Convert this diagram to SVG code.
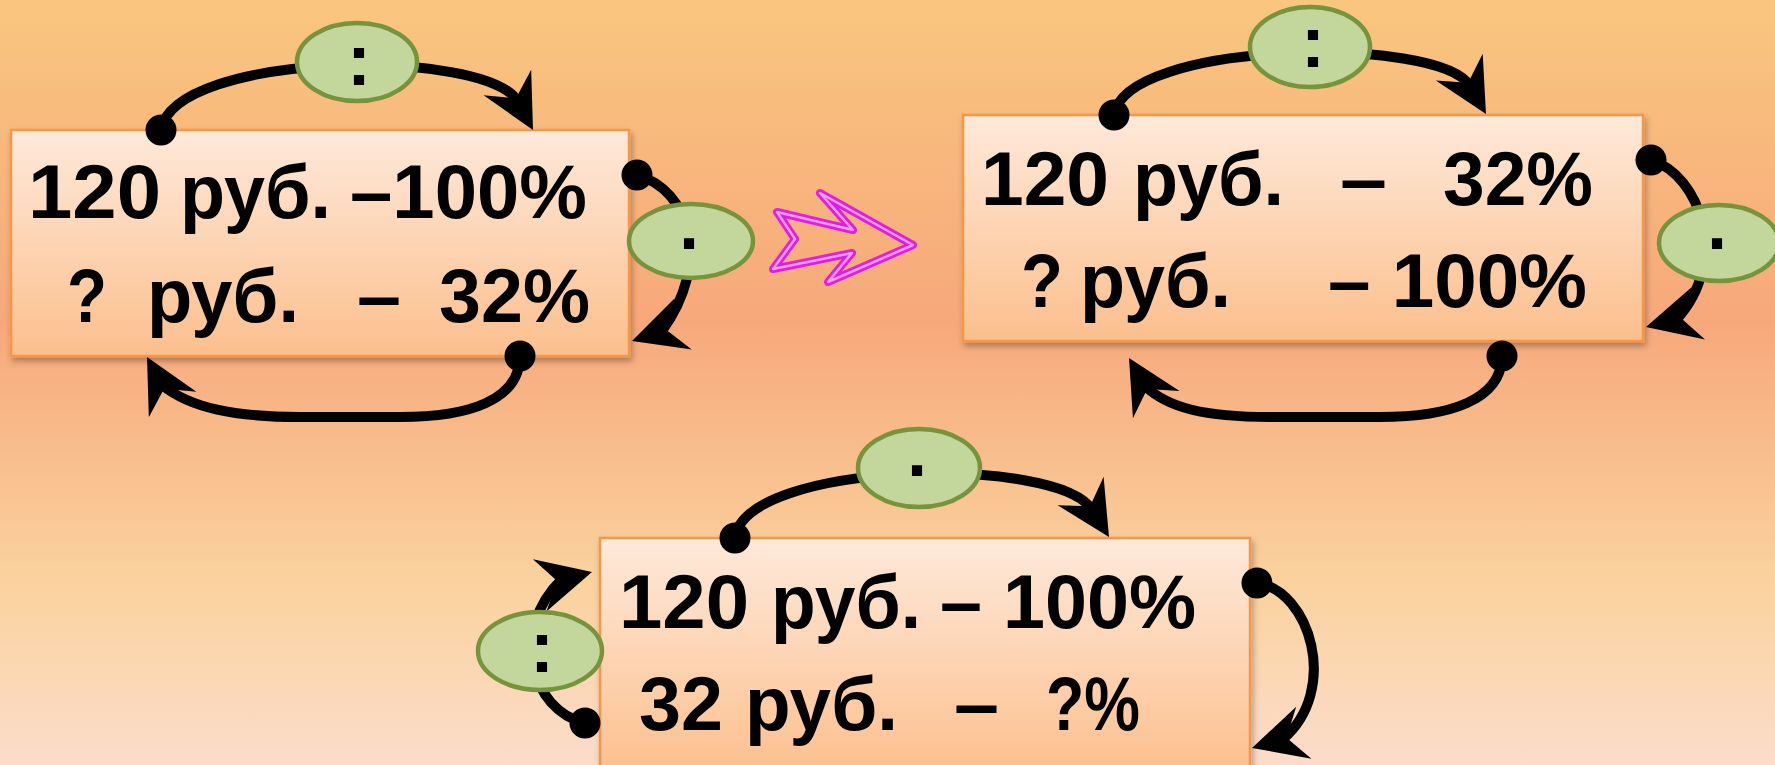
<svg xmlns="http://www.w3.org/2000/svg" xmlns:xlink="http://www.w3.org/1999/xlink" width="1775" height="765" viewBox="0 0 1775 765">
<defs>
  <linearGradient id="bg" x1="0" y1="0" x2="0" y2="1">
    <stop offset="0" stop-color="#f9c67f"/>
    <stop offset="0.42" stop-color="#f7a87b"/>
    <stop offset="0.76" stop-color="#fad29e"/>
    <stop offset="1" stop-color="#fcdcca"/>
  </linearGradient>
  <linearGradient id="boxfill" x1="0" y1="0" x2="0" y2="1">
    <stop offset="0" stop-color="#fee9da"/>
    <stop offset="1" stop-color="#fcbf8d"/>
  </linearGradient>
  <filter id="shadow" x="-5%" y="-5%" width="112%" height="115%">
    <feDropShadow dx="2" dy="4" stdDeviation="3" flood-color="#000" flood-opacity="0.3"/>
  </filter>
  <path id="ah" d="M0,0 L-54,-27 L-36,0 L-54,27 Z" fill="#000"/>
  <style>
    .box { fill: url(#boxfill); stroke: #f79646; stroke-width: 2.5; filter: url(#shadow); }
    .txt { font-family: "Liberation Sans", Arial, sans-serif; font-weight: bold; font-size: 76px; fill: #000; }
    .op { fill: #c3d69b; stroke: #77933c; stroke-width: 4.5; }
    .optxt { font-family: "Liberation Sans", Arial, sans-serif; font-weight: bold; font-size: 72px; fill: #000; text-anchor: middle; }
    .conn { fill: none; stroke: #000; stroke-width: 10; }
    .dot { fill: #000; }
    .zig { fill: none; stroke: #e01ee0; stroke-width: 8; stroke-linejoin: round; }
    .zig2 { fill: none; stroke: #f59af2; stroke-width: 2.5; stroke-linejoin: round; }
  </style>
</defs>

<rect x="0" y="0" width="1775" height="765" fill="url(#bg)"/>

<g id="box1">
  <rect class="box" x="11" y="130" width="618" height="226"/>
  <text class="txt" y="218"><tspan x="28" textLength="133" lengthAdjust="spacingAndGlyphs">120</tspan> <tspan x="180" textLength="151" lengthAdjust="spacingAndGlyphs">руб.</tspan> <tspan x="350" textLength="237" lengthAdjust="spacingAndGlyphs">–100%</tspan></text>
  <text class="txt" y="322"><tspan x="67" textLength="40" lengthAdjust="spacingAndGlyphs">?</tspan> <tspan x="147" textLength="152" lengthAdjust="spacingAndGlyphs">руб.</tspan> <tspan x="357" textLength="44" lengthAdjust="spacingAndGlyphs">–</tspan> <tspan x="439" textLength="151" lengthAdjust="spacingAndGlyphs">32%</tspan></text>
</g>

<g id="box2">
  <rect class="box" x="963" y="115" width="680" height="226"/>
  <text class="txt" y="205"><tspan x="981" textLength="128" lengthAdjust="spacingAndGlyphs">120</tspan> <tspan x="1133" textLength="151" lengthAdjust="spacingAndGlyphs">руб.</tspan> <tspan x="1340" textLength="47" lengthAdjust="spacingAndGlyphs">–</tspan> <tspan x="1443" textLength="150" lengthAdjust="spacingAndGlyphs">32%</tspan></text>
  <text class="txt" y="307"><tspan x="1021" textLength="42" lengthAdjust="spacingAndGlyphs">?</tspan> <tspan x="1080" textLength="151" lengthAdjust="spacingAndGlyphs">руб.</tspan> <tspan x="1328" textLength="259" lengthAdjust="spacingAndGlyphs">– 100%</tspan></text>
</g>

<g id="box3">
  <rect class="box" x="600" y="538" width="650" height="240"/>
  <text class="txt" y="628"><tspan x="619" textLength="130" lengthAdjust="spacingAndGlyphs">120</tspan> <tspan x="771" textLength="150" lengthAdjust="spacingAndGlyphs">руб.</tspan> <tspan x="940" textLength="256" lengthAdjust="spacingAndGlyphs">– 100%</tspan></text>
  <text class="txt" y="730"><tspan x="639" textLength="84" lengthAdjust="spacingAndGlyphs">32</tspan> <tspan x="745" textLength="153" lengthAdjust="spacingAndGlyphs">руб.</tspan> <tspan x="954" textLength="45" lengthAdjust="spacingAndGlyphs">–</tspan> <tspan x="1046" textLength="94" lengthAdjust="spacingAndGlyphs">?%</tspan></text>
</g>

<g id="arrow-transition">
  <polygon class="zig" points="777,212 853,230 820,193 913,245 828,282 852,253 773,269 795,239"/>
  <polygon class="zig2" points="777,212 853,230 820,193 913,245 828,282 852,253 773,269 795,239"/>
</g>

<g id="connectors">
  <path class="conn" d="M161,130 C175,50 490,48 518,102"/>
  <path class="conn" d="M637,175 C690,190 712,262 662,331"/>
  <path class="conn" d="M520,358 C518,400 470,417 400,417 L300,417 C235,417 190,408 162,385"/>
  <path class="conn" d="M1114,115 C1125,40 1440,35 1470,86"/>
  <path class="conn" d="M1651,160 C1700,175 1730,260 1677,319"/>
  <path class="conn" d="M1502,358 C1500,400 1450,417 1380,417 L1270,417 C1205,417 1168,408 1145,386"/>
  <path class="conn" d="M735,538 C745,460 1060,455 1092,510"/>
  <path class="conn" d="M585,723 C530,710 510,630 561,580"/>
  <path class="conn" d="M1257,583 C1310,590 1340,690 1283,739"/>

  <circle class="dot" cx="161" cy="130" r="15.5"/>
  <circle class="dot" cx="637" cy="175" r="15.5"/>
  <circle class="dot" cx="520" cy="356" r="15.5"/>
  <circle class="dot" cx="1114" cy="115" r="15.5"/>
  <circle class="dot" cx="1651" cy="160" r="15.5"/>
  <circle class="dot" cx="1502" cy="356" r="15.5"/>
  <circle class="dot" cx="735" cy="538" r="15.5"/>
  <circle class="dot" cx="585" cy="723" r="15.5"/>
  <circle class="dot" cx="1257" cy="583" r="15.5"/>

  <use xlink:href="#ah" transform="translate(533,130) rotate(61.7)"/>
  <use xlink:href="#ah" transform="translate(632,341) rotate(161.6)"/>
  <use xlink:href="#ah" transform="translate(147,357) rotate(-118.3)"/>
  <use xlink:href="#ah" transform="translate(1486,114) rotate(60.3)"/>
  <use xlink:href="#ah" transform="translate(1646,327) rotate(165.5)"/>
  <use xlink:href="#ah" transform="translate(1129,358) rotate(-120.3)"/>
  <use xlink:href="#ah" transform="translate(1109,537) rotate(58.3)"/>
  <use xlink:href="#ah" transform="translate(592,572) rotate(-14.4)"/>
  <use xlink:href="#ah" transform="translate(1252,748) rotate(163.6)"/>
</g>

<g id="op1">
  <ellipse class="op" cx="357" cy="62" rx="60" ry="39"/>
  <text class="optxt" x="359" y="85">:</text>
</g>
<g id="op2">
  <ellipse class="op" cx="691" cy="241" rx="62" ry="37"/>
  <text class="optxt" x="691" y="268">·</text>
</g>
<g id="op3">
  <ellipse class="op" cx="1310" cy="47" rx="60" ry="40"/>
  <text class="optxt" x="1313" y="67">:</text>
</g>
<g id="op4">
  <ellipse class="op" cx="1719" cy="243" rx="60" ry="38"/>
  <text class="optxt" x="1719" y="268">·</text>
</g>
<g id="op5">
  <ellipse class="op" cx="919" cy="468" rx="61" ry="39"/>
  <text class="optxt" x="919" y="495">·</text>
</g>
<g id="op6">
  <ellipse class="op" cx="540" cy="651" rx="62" ry="39"/>
  <text class="optxt" x="542" y="672">:</text>
</g>
</svg>
